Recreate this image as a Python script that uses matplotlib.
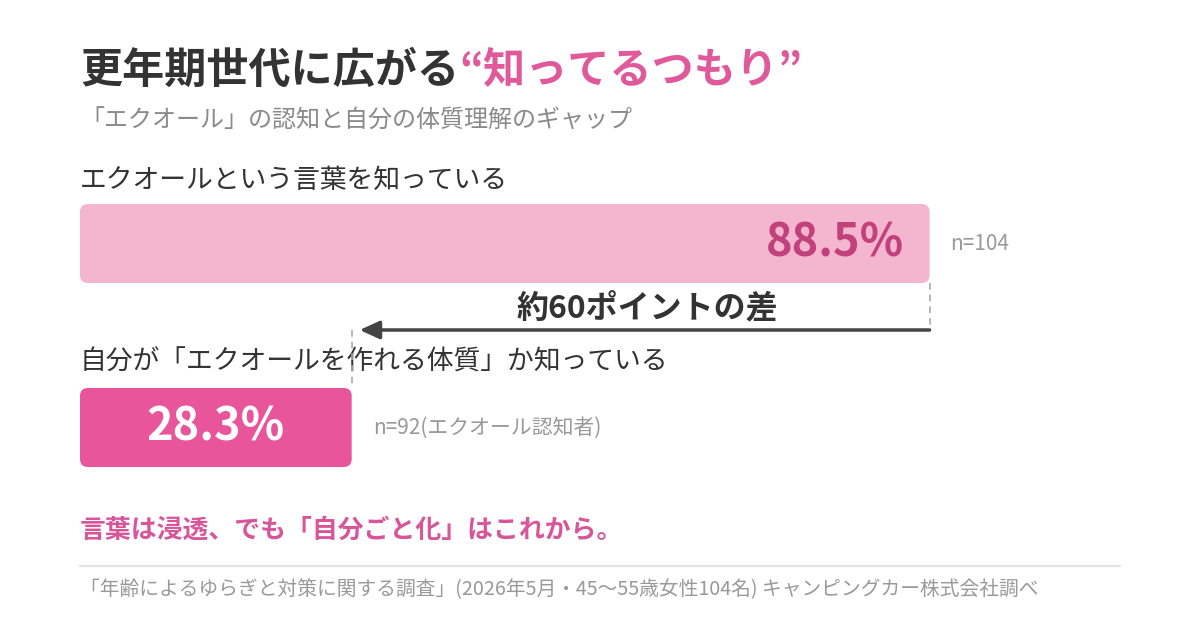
import matplotlib.pyplot as plt
from matplotlib.patches import FancyBboxPatch

plt.rcParams["font.family"] = ["Noto Sans CJK JP", "DejaVu Sans"]

# --- data ---
title_main = "更年期世代に広がる"
title_accent = "“知ってるつもり”"
subtitle = "「エクオール」の認知と自分の体質理解のギャップ"
labels = ["エクオールという言葉を知っている",
          "自分が「エクオールを作れる体質」か知っている"]
values = [88.5, 28.3]
sample_notes = ["n=104", "n=92(エクオール認知者)"]
gap_label = "約60ポイントの差"
takeaway = "言葉は浸透、でも「自分ごと化」はこれから。"
source = "「年齢によるゆらぎと対策に関する調査」(2026年5月・45〜55歳女性104名) キャンピングカー株式会社調べ"

bar_colors = ["#f4b6cf", "#e8559a"]
value_colors = ["#c2407c", "#ffffff"]
DARK = "#333333"
GRAY = "#8a8a8a"
PINK = "#e05a9b"

W, H = 1200, 630
fig = plt.figure(figsize=(W / 100, H / 100), dpi=100)
fig.patch.set_facecolor("white")

# pixel axes for free text
ax = fig.add_axes([0, 0, 1, 1])
ax.set_xlim(0, W)
ax.set_ylim(H, 0)
ax.axis("off")

# bar axes: x in percent (0-100 spans 80..1040 px), y in pixels
left_px, full_px = 80, 960
bx = fig.add_axes([left_px / W, 0, full_px / W, 1])
bx.set_xlim(0, 100)
bx.set_ylim(H, 0)
bx.axis("off")
px_per_pct = full_px / 100

# title
t1 = ax.text(80, 92, title_main, fontsize=30.3, fontweight="bold", color=DARK,
             ha="left", va="bottom")
ax.annotate(title_accent, xy=(1, 0), xycoords=t1, fontsize=30.3, fontweight="bold",
            color=PINK, ha="left", va="bottom")
ax.text(80, 121, subtitle, fontsize=17.3, color=GRAY, ha="left", va="center")

bar_tops = [204, 388]
bar_h = 79
label_y = [180, 362]
for i, (lab, val) in enumerate(zip(labels, values)):
    ax.text(80, label_y[i], lab, fontsize=19.3, color=DARK, ha="left", va="center")
    box = FancyBboxPatch((0, bar_tops[i]), val, bar_h,
                         boxstyle=f"round,pad=0,rounding_size={8 / px_per_pct}",
                         mutation_aspect=px_per_pct,
                         facecolor=bar_colors[i], edgecolor="none")
    bx.add_patch(box)
    cy = bar_tops[i] + bar_h / 2
    if i == 0:
        bx.text(val - 25 / px_per_pct, cy, f"{val}%", fontsize=32.5, fontweight="bold",
                color=value_colors[i], ha="right", va="center")
    else:
        bx.text(val / 2, cy, f"{val}%", fontsize=32.5, fontweight="bold",
                color=value_colors[i], ha="center", va="center")
    bx.text(val + 21 / px_per_pct, cy, sample_notes[i], fontsize=15, color="#999999",
            ha="left", va="center")

# gap marker
arrow_y = 330
bx.plot([values[0], values[0]], [bar_tops[0] + bar_h, arrow_y], color="#aaaaaa",
        lw=1.2, ls=(0, (4, 3)))
bx.plot([values[1], values[1]], [arrow_y, bar_tops[1] - 2], color="#aaaaaa",
        lw=1.2, ls=(0, (4, 3)))
bx.annotate("", xy=(values[1] + 8 / px_per_pct, arrow_y), xytext=(values[0], arrow_y),
            arrowprops=dict(arrowstyle="-|>,head_length=1.2,head_width=0.55",
                            color="#444444", lw=2.5, shrinkA=0, shrinkB=0))
bx.text((values[0] + values[1]) / 2 + 7 / px_per_pct, 309, gap_label, fontsize=23,
        fontweight="bold", color=DARK, ha="center", va="center")

# takeaway and source
ax.text(80, 530, takeaway, fontsize=18.6, fontweight="bold", color="#d9559a",
        ha="left", va="center")
ax.plot([80, 1120], [566, 566], color="#e3e3e3", lw=1.5)
ax.text(80, 590, source, fontsize=14.2, color="#999999", ha="left", va="center")

fig.savefig("out.png", dpi=100, facecolor="white")
